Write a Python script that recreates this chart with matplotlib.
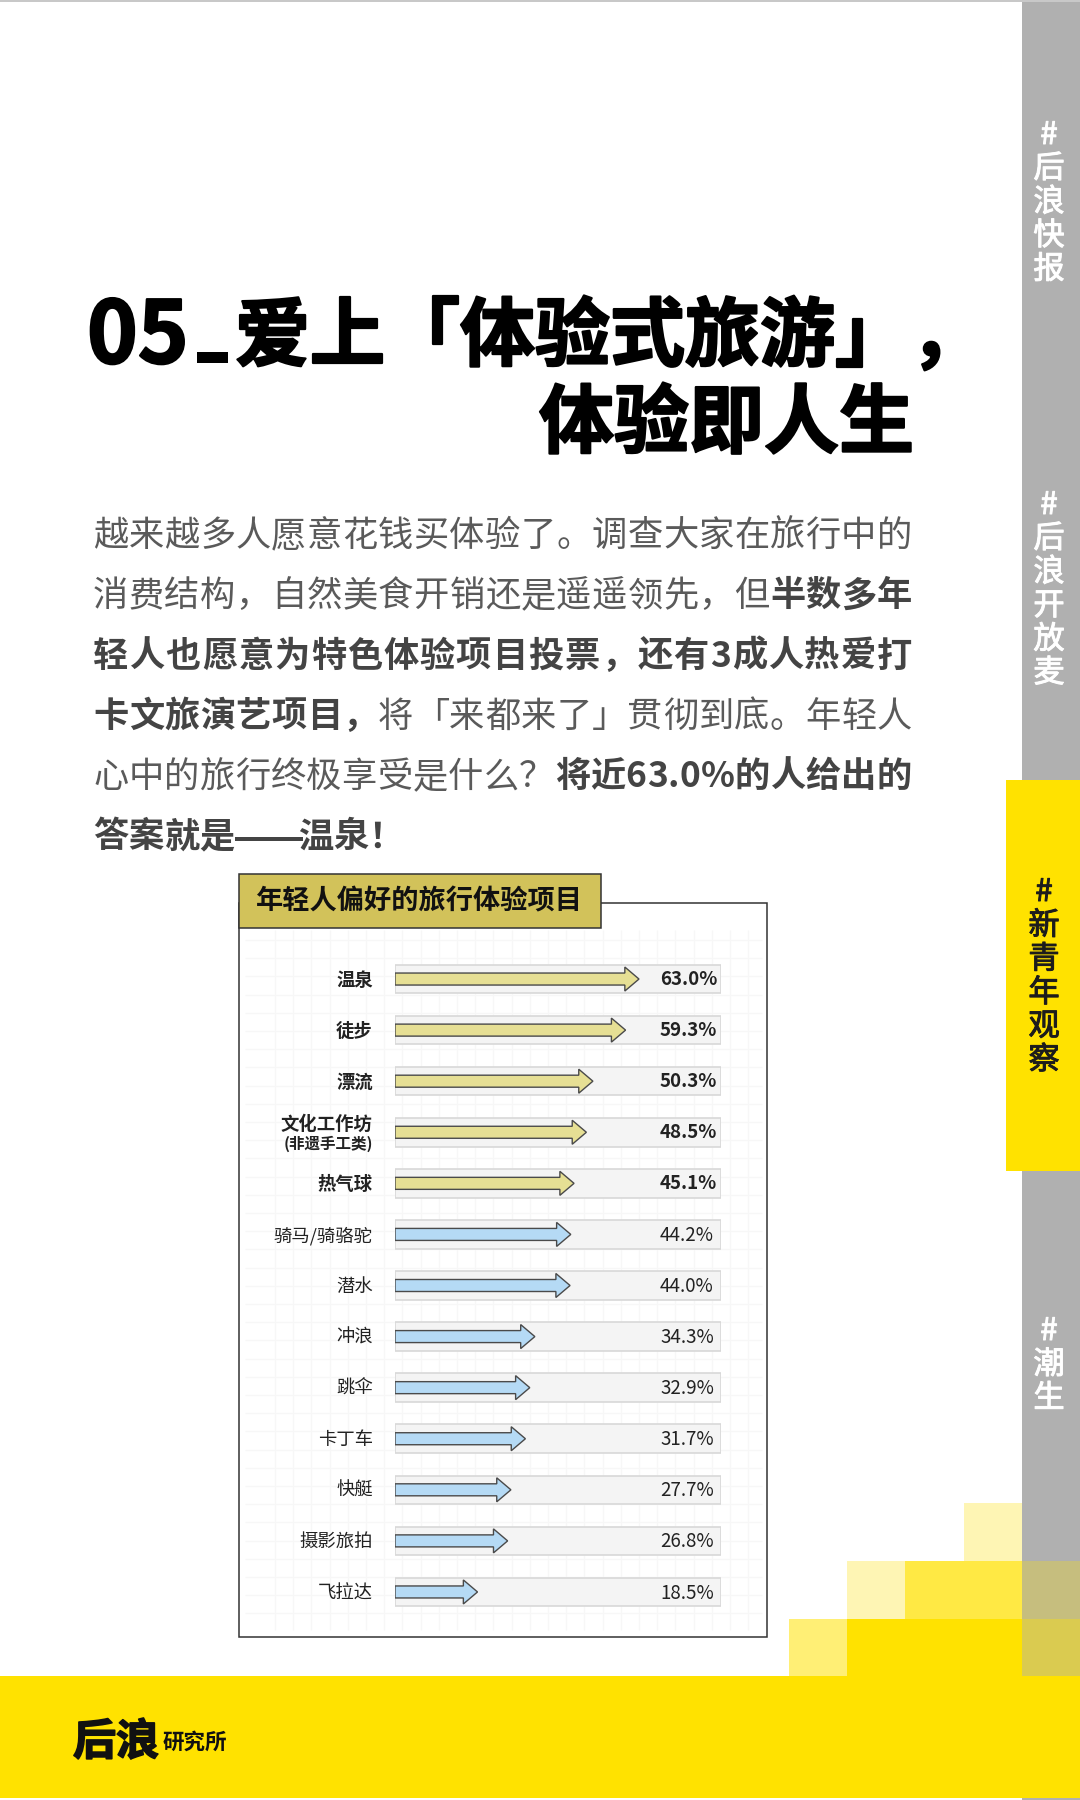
import matplotlib
matplotlib.use('Agg')
import matplotlib.pyplot as plt
import matplotlib.patheffects as pe
import numpy as np
from matplotlib import font_manager as fm
from matplotlib.ft2font import LoadFlags
from matplotlib.patches import Rectangle

CJK = 'Noto Sans CJK SC'
plt.rcParams['font.family'] = [CJK, 'DejaVu Sans']

# chart data
items = ['温泉', '徒步', '漂流', '文化工作坊', '热气球', '骑马/骑骆驼', '潜水', '冲浪', '跳伞', '卡丁车', '快艇', '摄影旅拍', '飞拉达']
values = [63.0, 59.3, 50.3, 48.5, 45.1, 44.2, 44.0, 34.3, 32.9, 31.7, 27.7, 26.8, 18.5]
n_top = 5
sub_label = '(非遗手工类)'
chart_title = '年轻人偏好的旅行体验项目'

# page text
title_1 = '爱上「体验式旅游」，'
title_2 = '体验即人生'
body = [
    [('越来越多人愿意花钱买体验了。调查大家在旅行中的', 0)],
    [('消费结构，自然美食开销还是遥遥领先，但', 0), ('半数多年', 1)],
    [('轻人也愿意为特色体验项目投票，还有3成人热爱打', 1)],
    [('卡文旅演艺项目，', 1), ('将「来都来了」贯彻到底。年轻人', 0)],
    [('心中的旅行终极享受是什么？', 0), ('将近63.0%的人给出的', 1)],
    [('答案就是——温泉！', 1)],
]
tabs = [('#后浪快报', 135), ('#后浪开放麦', 505), ('#新青年观察', 892), ('#潮生', 1331)]

YELLOW = '#FFE200'
GRAY = '#B0B0B0'

fig = plt.figure(figsize=(10.8, 18), dpi=100, facecolor='white')
bg = fig.add_axes([0, 0, 1, 1])
bg.set_xlim(0, 1080)
bg.set_ylim(1800, 0)
bg.axis('off')


def box(x0, y0, x1, y1, color, ax=bg, **kw):
    ax.add_patch(Rectangle((x0, y0), x1 - x0, y1 - y0, fc=color, ec=kw.pop('ec', 'none'), **kw))


def advance(ch, size, weight):
    path = fm.findfont(fm.FontProperties(family=CJK, weight=weight))
    font = fm.get_font(path)
    font.set_size(size, 100)
    return font.load_char(ord(ch), flags=LoadFlags.NO_HINTING).linearHoriAdvance / 65536


def write_line(runs, x, y, size, target=None, colors=('#5a5a5a', '#444444')):
    # one character at a time so that the line can be justified
    chars = [(c, w) for run, w in runs for c in run]
    weights = {0: 500, 1: 'bold'}
    widths = [advance(c, size, weights[w]) for c, w in chars]
    gap = 0
    if target:
        gap = (target - sum(widths)) / (len(chars) - 1)
    for (c, w), cw in zip(chars, widths):
        bg.text(x, y, c, fontsize=size, fontweight=weights[w], color=colors[w], ha='left', va='baseline')
        x += cw + gap


# top hairline, side tabs
box(0, 0, 1080, 1.5, '#C8C8C8', zorder=5)
box(1022, 0, 1080, 1561, GRAY)
box(1006, 780, 1080, 1171, YELLOW)
for label, top in tabs:
    active = label.startswith('#新')
    for i, c in enumerate(label):
        bg.text(1044 if active else 1049, top + i * 33.6, c, fontsize=22.5, fontweight=500,
                color='#1c1c1c' if active else 'white', ha='center', va='center',
                path_effects=[pe.withStroke(linewidth=0.7, foreground='#1c1c1c' if active else 'white')])

# corner blocks and footer
box(0, 1676, 1080, 1798, YELLOW)
box(1022, 1798, 1080, 1800, GRAY)
box(847, 1619, 1022, 1677, YELLOW)
box(789, 1619, 847, 1676, '#FFEF75')
box(847, 1561, 905, 1619, '#FEF5B4')
box(905, 1561, 1022, 1619, '#FFE944')
box(964, 1503, 1022, 1561, '#FEF5B4')
box(1022, 1561, 1080, 1619, '#C6BE7E')
box(1022, 1619, 1080, 1676, '#DACB50')
logo_fx = [pe.withStroke(linewidth=1.2, foreground='#111111')]
bg.text(73, 1755, '后浪', fontsize=31, fontweight='black', color='#111111', ha='left', va='baseline', path_effects=logo_fx)
bg.text(163, 1749, '研究所', fontsize=15.5, fontweight='bold', color='#111111', ha='left', va='baseline')

# headline
head_fx = [pe.withStroke(linewidth=1.6, foreground='black')]
bg.text(87, 363, '05', fontsize=62, fontweight='black', color='black', ha='left', va='baseline', path_effects=head_fx)
box(197, 352, 228, 363, 'black')
x = 235
for c in title_1:
    bg.text(x, 360, c, fontsize=54, fontweight='black', color='black', ha='left', va='baseline', path_effects=head_fx)
    x += 75
x = 539
for c in title_2:
    bg.text(x, 447, c, fontsize=54, fontweight='black', color='black', ha='left', va='baseline', path_effects=head_fx)
    x += 75

# body text
for i, runs in enumerate(body):
    write_line(runs, 93, 546 + i * 60.3, 25.4, None if i == 5 else 819)
box(235, 837, 303, 840.5, '#444444')

# chart panel
box(239, 903, 767, 1637, 'white', ec='#333333', lw=1.1, zorder=1)
bg.vlines(np.arange(275, 762, 18.2), 930, 1630, color='#F7F7F7', lw=0.9, zorder=1.1)
bg.hlines(np.arange(940, 1630, 18.2), 245, 762, color='#F7F7F7', lw=0.9, zorder=1.1)
box(239, 874, 601, 928, '#D2C25A', ec='#333333', lw=1.1, zorder=2)
bg.text(419, 901, chart_title, fontsize=19.6, fontweight='bold', color='#111111', ha='center', va='center', zorder=3)

# bars, x scale taken from the arrow tips
ax = fig.add_axes([395 / 1080, 1 - 1617.5 / 1800, (721 - 395) / 1080, 664 / 1800], zorder=2)
ax.patch.set_alpha(0)
x_min, x_max = -4.24, 85.6
rows = np.arange(len(items))
ax.set_xlim(x_min, x_max)
ax.set_ylim(len(items) - 0.5, -0.5)
for s in ax.spines.values():
    s.set_visible(False)
ax.set_xticks([])
ax.barh(rows, x_max - x_min, left=x_min, height=0.56, color='#F4F4F4', edgecolor='#D8D8D8', lw=1.2)
for r, v in zip(rows, values):
    top = r < n_top
    ax.arrow(x_min, r, v - x_min, 0, width=0.235, head_width=0.47, head_length=3.9,
             length_includes_head=True, fc='#E6DF94' if top else '#B5DAF5', ec='#4A4A4A', lw=1, zorder=3)
    w = 'bold' if top else 'regular'
    ax.annotate(f'{v:.1f}%', (0.813, r), xycoords=ax.get_yaxis_transform(), xytext=(0, 1), textcoords='offset points',
                fontsize=13.5, fontweight=w, color='#222222', ha='left', va='center_baseline')
ax.set_yticks(rows, [])
ax.tick_params(axis='y', length=0)
for r, name in zip(rows, items):
    w = 'bold' if r < n_top else 500
    if name == '文化工作坊':
        ax.annotate(name, (0, r), xycoords=ax.get_yaxis_transform(), xytext=(-16, 6), textcoords='offset points',
                    fontsize=13.2, fontweight='bold', color='#222222', ha='right', va='center')
        ax.annotate(sub_label, (0, r), xycoords=ax.get_yaxis_transform(), xytext=(-16, -8), textcoords='offset points',
                    fontsize=11.2, fontweight='bold', color='#222222', ha='right', va='center')
    else:
        ax.annotate(name, (0, r), xycoords=ax.get_yaxis_transform(), xytext=(-16, -1), textcoords='offset points',
                    fontsize=13.2, fontweight=w, color='#222222', ha='right', va='center')

fig.savefig('out.png', dpi=100, facecolor='white')
